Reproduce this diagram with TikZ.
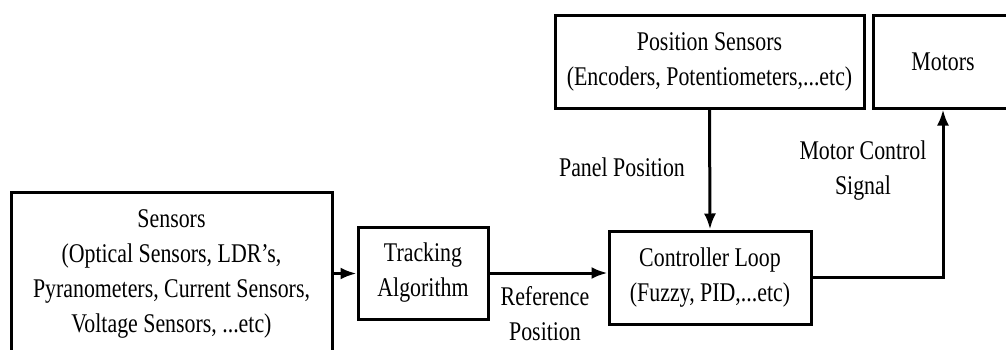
\documentclass[tikz,border=0pt]{standalone}
\usepackage{fontspec}
\setmainfont{Liberation Serif}[FakeStretch=0.81]
\usetikzlibrary{arrows.meta}
\begin{document}
\begin{tikzpicture}[x=1pt,y=-1pt,
every node/.style={font=\fontsize{27}{35}\selectfont,align=center},
block/.style={draw,line width=3pt,inner sep=0pt},
arw/.style={-{Latex[length=16pt,width=12pt]},line width=3pt}
]
\useasboundingbox(0,0)rectangle(1006,349);
\clip(0,0)rectangle(1006,349);
%blocks
\node[block,minimum width=321,minimum height=163]at(171.5,273.5)(sens){Sensors\\(Optical Sensors, LDR's,\\Pyranometers, Current Sensors,\\Voltage Sensors, ...etc)};
\node[block,minimum width=130,minimum height=92]at(423,273)(track){Tracking\\Algorithm};
\node[block,minimum width=202,minimum height=93]at(710,277.5)(ctrl){Controller Loop\\(Fuzzy, PID,...etc)};
\node[block,minimum width=309,minimum height=93]at(709.5,61.5)(pos){Position Sensors\\(Encoders, Potentiometers,...etc)};
\node[block,minimum width=140,minimum height=93]at(943,61.5)(mot){Motors};
%labels
\node[]at(545,314)(ref){Reference\\Position};
\node[]at(622,167)(panel){Panel Position};
\node[]at(863,171)(sig){Motor Control\\Signal};
%arrows
\draw[arw](sens.east)--(sens.east-|track.west);
\draw[arw](track.east)--(track.east-|ctrl.west);
\draw[arw](pos.south)--(ctrl.north);
\draw[arw](ctrl.east)-|(mot.south);
\end{tikzpicture}
\end{document}
